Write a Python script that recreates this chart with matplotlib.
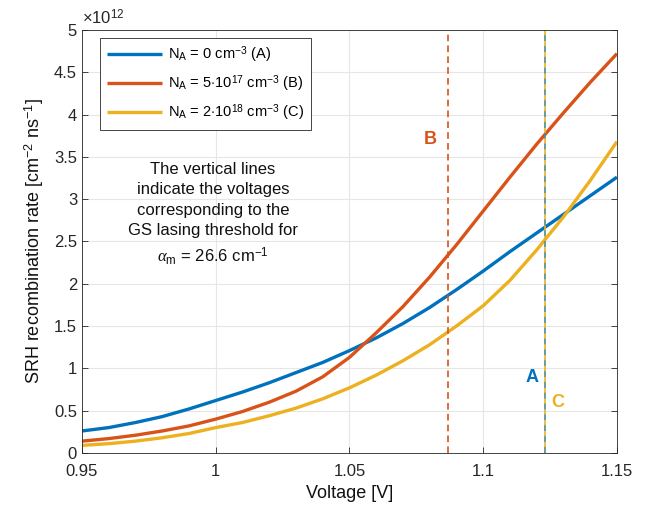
import matplotlib
matplotlib.use("Agg")
import matplotlib.pyplot as plt

plt.rcParams.update({
    "font.family": ["Liberation Sans", "DejaVu Sans"],
    "font.size": 11,
    "mathtext.fontset": "custom",
    "mathtext.rm": "Liberation Sans",
    "mathtext.it": "Liberation Serif:italic",
})

# voltage grid [V]
voltage = [0.95, 0.96, 0.97, 0.98, 0.99, 1.00, 1.01, 1.02, 1.03, 1.04, 1.05,
           1.06, 1.07, 1.08, 1.09, 1.10, 1.11, 1.12, 1.13, 1.14, 1.15]

# SRH recombination rate [1e12 cm^-2 ns^-1]
srh_a = [0.26, 0.30, 0.36, 0.43, 0.52, 0.62, 0.72, 0.83, 0.95, 1.07, 1.21,
         1.36, 1.53, 1.72, 1.93, 2.15, 2.38, 2.60, 2.82, 3.04, 3.26]
srh_b = [0.14, 0.17, 0.21, 0.26, 0.32, 0.40, 0.49, 0.60, 0.73, 0.90, 1.13,
         1.42, 1.73, 2.08, 2.46, 2.86, 3.26, 3.65, 4.02, 4.38, 4.72]
srh_c = [0.09, 0.11, 0.14, 0.18, 0.23, 0.30, 0.36, 0.44, 0.53, 0.64, 0.77,
         0.92, 1.09, 1.28, 1.50, 1.74, 2.04, 2.40, 2.79, 3.22, 3.68]

# threshold voltages
v_thr_a = 1.123
v_thr_b = 1.087
v_thr_c = 1.123

labels = [r"N$_\mathregular{A}$ = 0 cm$^{-3}$ (A)",
          r"N$_\mathregular{A}$ = 5$\cdot$10$^{17}$ cm$^{-3}$ (B)",
          r"N$_\mathregular{A}$ = 2$\cdot$10$^{18}$ cm$^{-3}$ (C)"]
COLORS = ["#0072BD", "#D95319", "#EDB120"]

fig = plt.figure(figsize=(6.49, 5.13), dpi=100)
ax = fig.add_axes([0.1263, 0.117, 0.8243, 0.8246])

for y, lab, c in zip([srh_a, srh_b, srh_c], labels, COLORS):
    ax.plot(voltage, y, color=c, lw=2.4, label=lab, solid_capstyle="butt")

ax.axvline(v_thr_b, color=COLORS[1], lw=1.2, ls=(0, (4, 2.5)))
ax.axvline(v_thr_a, color="#4f8a8b", lw=1.2, ls=(0, (4, 2.5)))
ax.axvline(v_thr_c, color=COLORS[2], lw=1.2, ls=(3, (3, 3.5)))

ax.text(1.0801, 3.70, "B", color=COLORS[1], fontsize=13, fontweight="bold",
        ha="center", va="center")
ax.text(1.1182, 0.89, "A", color=COLORS[0], fontsize=13, fontweight="bold",
        ha="center", va="center")
ax.text(1.1279, 0.60, "C", color=COLORS[2], fontsize=13, fontweight="bold",
        ha="center", va="center")

ax.text(0.999, 3.44, "The vertical lines\nindicate the voltages\ncorresponding to the\n"
        "GS lasing threshold for\n" + r"$\mathit{\alpha}_\mathregular{m}$ = 26.6 cm$^{-1}$",
        ha="center", va="top", fontsize=12, linespacing=1.45, color="#111111")

ax.set_xlim(0.95, 1.15)
ax.set_ylim(0, 5)
ax.set_xticks([0.95, 1.0, 1.05, 1.1, 1.15])
ax.set_xticklabels(["0.95", "1", "1.05", "1.1", "1.15"])
ax.set_yticks([0, 0.5, 1, 1.5, 2, 2.5, 3, 3.5, 4, 4.5, 5])
ax.set_yticklabels(["0", "0.5", "1", "1.5", "2", "2.5", "3", "3.5", "4", "4.5", "5"])
ax.tick_params(direction="in", length=4, width=0.6, colors="#262626", labelsize=12,
               top=False, right=True)
ax.tick_params(axis="x", pad=8)
ax.grid(color="#e6e6e6", lw=0.8)
ax.set_axisbelow(True)
for s in ax.spines.values():
    s.set_color("#262626")
    s.set_linewidth(0.6)

ax.set_xlabel("Voltage [V]", fontsize=13, color="#111111", labelpad=4)
ax.set_ylabel(r"SRH recombination rate [cm$^{-2}$ ns$^{-1}$]", fontsize=13,
              color="#111111", labelpad=6)
ax.text(0.0, 1.005, r"$\times$10$^{12}$", transform=ax.transAxes, fontsize=12,
        ha="left", va="bottom", color="#262626")

leg = ax.legend(loc="upper left", bbox_to_anchor=(0.034, 0.981), fontsize=10.5,
                handlelength=3.8, handletextpad=0.4, borderpad=0.45,
                labelspacing=0.55, borderaxespad=0, fancybox=False, framealpha=1)
leg.get_frame().set_edgecolor("#262626")
leg.get_frame().set_linewidth(0.6)

plt.savefig("out.png", dpi=100)
plt.close()
